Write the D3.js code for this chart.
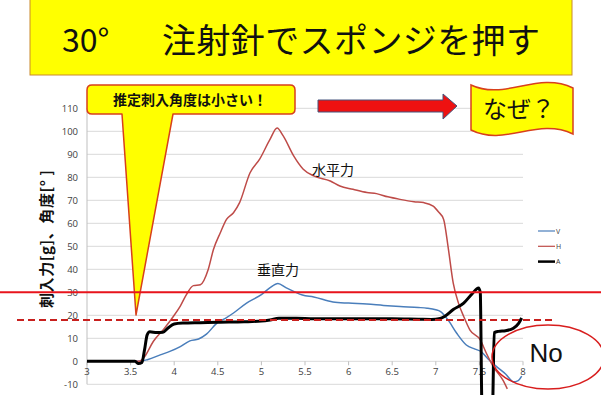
<!DOCTYPE html>
<html>
<head>
<meta charset="utf-8">
<script src="https://cdn.jsdelivr.net/npm/d3@7/dist/d3.min.js"></script>
<style>
  html, body { margin: 0; padding: 0; background: #fff; }
  svg { display: block; }
</style>
</head>
<body>
<div id="chart"></div>
<script>
// 30° 注射針でスポンジを押す — V / H / A vs time
const yTicks = [-10, 0, 10, 20, 30, 40, 50, 60, 70, 80, 90, 100, 110];
const xTicks = [3, 3.5, 4, 4.5, 5, 5.5, 6, 6.5, 7, 7.5, 8];
const xTickLabels = ['3', '3.5', '4', '4.5', '5', '5.5', '6', '6.5', '7', '7.5', '8'];

// V (vertical force)
const vX = [3.0, 3.6, 3.7, 3.84, 3.95, 4.07, 4.18, 4.28, 4.37, 4.49, 4.6, 4.68, 4.83, 5.0, 5.1, 5.19, 5.28, 5.37, 5.47, 5.6, 5.82, 6.0, 6.21, 6.4, 6.59, 6.8, 6.9, 7.0, 7.05, 7.14, 7.24, 7.35, 7.45, 7.52, 7.6, 7.7, 7.8, 7.89, 7.94, 7.985];
const vY = [0, 0, 0.8, 2.8, 4.3, 6.4, 8.9, 9.7, 11.8, 16.6, 19, 21, 25.3, 29, 32, 33.8, 32, 30.4, 28.8, 28, 25.8, 25.3, 24.9, 24.3, 23.8, 23.4, 23.1, 22.4, 21.7, 18, 12.2, 7.1, 5.3, 4.2, 1, -2.4, -5.5, -8.9, -8.5, -6.4];

// H (horizontal force)
const hX = [3.0, 3.6, 3.66, 3.76, 3.88, 3.99, 4.07, 4.14, 4.22, 4.3, 4.39, 4.45, 4.53, 4.6, 4.68, 4.75, 4.87, 4.98, 5.1, 5.18, 5.25, 5.37, 5.48, 5.6, 5.79, 5.9, 6.05, 6.21, 6.32, 6.45, 6.59, 6.75, 6.86, 6.97, 7.03, 7.09, 7.14, 7.2, 7.26, 7.32, 7.39, 7.51, 7.58, 7.66, 7.77, 7.82];
const hY = [0, 0, 2, 8.6, 14, 19.5, 24, 29, 32.9, 33.3, 39.9, 48.6, 56, 61.7, 64.6, 69, 82, 87.9, 96.6, 101.4, 98, 89.3, 83.5, 80.6, 78.4, 76.2, 74.8, 73.4, 72.9, 71.5, 70.4, 69.4, 69, 67.5, 65, 61.7, 50, 34, 25.3, 19.5, 13.7, 9.3, 3.5, -2.4, -8.2, -12];

// A (estimated angle)
const aX = [3.0, 3.5, 3.55, 3.59, 3.63, 3.66, 3.69, 3.72, 3.8, 3.87, 3.93, 4.0, 4.1, 4.3, 4.5, 4.8, 5.0, 5.1, 5.2, 5.4, 5.6, 6.0, 6.5, 6.8, 6.95, 7.05, 7.1, 7.2, 7.32, 7.42, 7.49, 7.51, 7.53, 7.65, 7.67, 7.72, 7.8, 7.89, 7.95, 7.985];
const aY = [0, 0, 0, -1, -0.5, 5, 11.5, 12.8, 12.5, 12.6, 14.5, 16.2, 16.6, 16.8, 17, 17.2, 17.5, 18, 18.7, 18.7, 18.5, 18.5, 18.5, 18.3, 18.2, 18.6, 19.5, 22.5, 25.3, 29.5, 31.9, 30, -20, -20, 12.5, 13, 13.3, 14.4, 16.5, 18.8];

const seriesNames = ['V', 'H', 'A'];
const seriesColors = ['#4a7ebb', '#be4b48', '#000000'];
const seriesWidths = [1.5, 1.5, 3];

const refSolid = 30;   // solid red threshold
const refDashed = 18;  // dashed red threshold

const W = 601, H = 395;
const jp = "'Noto Sans CJK JP', 'Noto Sans', sans-serif";
const num = "'Open Sans', 'Liberation Sans', sans-serif";

const svg = d3.select('#chart').append('svg')
  .attr('width', W).attr('height', H)
  .attr('viewBox', `0 0 ${W} ${H}`);

svg.append('rect').attr('width', W).attr('height', H).attr('fill', '#fff');

const x = d3.scaleLinear().domain([3, 8]).range([87, 523]);
const y = d3.scaleLinear().domain([-10, 110]).range([384.3, 108.3]);

// Title banner
svg.append('rect')
  .attr('x', 30).attr('y', -1).attr('width', 542).attr('height', 76)
  .attr('fill', '#ffff00').attr('stroke', '#c98a2e').attr('stroke-width', 1);
svg.append('text')
  .attr('x', 62).attr('y', 52)
  .attr('font-family', jp).attr('font-size', 32)
  .attr('fill', '#111')
  .text('30°');
svg.append('text')
  .attr('x', 162).attr('y', 53)
  .attr('font-family', jp).attr('font-size', 34)
  .attr('textLength', 378).attr('lengthAdjust', 'spacing')
  .attr('fill', '#111')
  .text('注射針でスポンジを押す');

// Grid
svg.append('g').selectAll('line').data(yTicks).join('line')
  .attr('x1', x(3)).attr('x2', x(8))
  .attr('y1', d => y(d)).attr('y2', d => y(d))
  .attr('stroke', '#d9d9d9').attr('stroke-width', 1);

// vertical axis line
svg.append('line')
  .attr('x1', x(3)).attr('x2', x(3))
  .attr('y1', y(110)).attr('y2', y(-10))
  .attr('stroke', '#bfbfbf').attr('stroke-width', 1);

// y tick labels
svg.append('g').selectAll('text').data(yTicks).join('text')
  .attr('x', 78).attr('y', d => y(d) + 3.5)
  .attr('text-anchor', 'end')
  .attr('font-family', num).attr('font-size', 9.5)
  .attr('fill', '#404040')
  .text(d => d);

// x ticks + labels (axis crosses at 0)
svg.append('g').selectAll('line').data(xTicks).join('line')
  .attr('x1', d => x(d)).attr('x2', d => x(d))
  .attr('y1', y(0)).attr('y2', y(0) + 4)
  .attr('stroke', '#bfbfbf');
svg.append('g').selectAll('text').data(xTicks).join('text')
  .attr('x', d => x(d)).attr('y', y(0) + 14)
  .attr('text-anchor', 'middle')
  .attr('font-family', num).attr('font-size', 9.5)
  .attr('fill', '#404040')
  .text((d, i) => xTickLabels[i]);

// Y axis title
svg.append('text')
  .attr('transform', 'translate(52,239) rotate(-90)')
  .attr('text-anchor', 'middle')
  .attr('font-family', jp).attr('font-size', 15).attr('font-weight', 'bold')
  .attr('textLength', 138).attr('lengthAdjust', 'spacing')
  .attr('fill', '#111')
  .text('刺入力[g]、角度[° ]');

// Callout "推定刺入角度は小さい！" with tail
svg.append('path')
  .attr('d', 'M92,85 H290 Q295,85 295,90 V109 Q295,114 290,114 H173 L136,315 L122,114 H92 Q87,114 87,109 V90 Q87,85 92,85 Z')
  .attr('fill', '#ffff00').attr('stroke', '#d8401c').attr('stroke-width', 1.5)
  .attr('stroke-linejoin', 'round');
svg.append('text')
  .attr('x', 190).attr('y', 105)
  .attr('text-anchor', 'middle')
  .attr('font-family', jp).attr('font-size', 14).attr('font-weight', 'bold')
  .attr('fill', '#111')
  .text('推定刺入角度は小さい！');

// Series
svg.append('clipPath').attr('id', 'plotClip')
  .append('rect').attr('x', 80).attr('y', 0).attr('width', 460).attr('height', H);

const line = d3.line()
  .x(d => x(d[0])).y(d => y(d[1]))
  .curve(d3.curveMonotoneX);

const series = [
  d3.zip(vX, vY),
  d3.zip(hX, hY),
  d3.zip(aX, aY)
];

const gLines = svg.append('g').attr('clip-path', 'url(#plotClip)');
series.forEach((pts, i) => {
  gLines.append('path')
    .attr('d', line(pts))
    .attr('fill', 'none')
    .attr('stroke', seriesColors[i])
    .attr('stroke-width', seriesWidths[i])
    .attr('stroke-linejoin', 'round');
});

// series labels
svg.append('text')
  .attr('x', 312).attr('y', 175)
  .attr('font-family', jp).attr('font-size', 14)
  .attr('fill', '#111')
  .text('水平力');
svg.append('text')
  .attr('x', 257).attr('y', 275)
  .attr('font-family', jp).attr('font-size', 14)
  .attr('fill', '#111')
  .text('垂直力');

// Legend
const leg = svg.append('g');
seriesNames.forEach((name, i) => {
  const ly = 231 + i * 15.3;
  leg.append('line')
    .attr('x1', 538).attr('x2', 555)
    .attr('y1', ly).attr('y2', ly)
    .attr('stroke', seriesColors[i])
    .attr('stroke-width', i === 2 ? 2.5 : 1.2);
  leg.append('text')
    .attr('x', 556).attr('y', ly + 2.5)
    .attr('font-family', num).attr('font-size', 7)
    .attr('fill', '#404040')
    .text(name);
});

// Threshold lines
svg.append('line')
  .attr('x1', 0).attr('x2', W)
  .attr('y1', y(refSolid)).attr('y2', y(refSolid))
  .attr('stroke', '#e8141c').attr('stroke-width', 2);
svg.append('line')
  .attr('x1', 17).attr('x2', 555)
  .attr('y1', y(refDashed)).attr('y2', y(refDashed))
  .attr('stroke', '#c8201e').attr('stroke-width', 2)
  .attr('stroke-dasharray', '7,4');

// Arrow
svg.append('path')
  .attr('d', 'M318,100 H443 V94 L457,106 L443,119 V112 H318 Z')
  .attr('fill', '#ee1111').attr('stroke', '#44547c').attr('stroke-width', 1);

// "なぜ？" wave flag
svg.append('path')
  .attr('d', 'M471,85 C505,101 537,71 573,88 L573,134 C537,117 505,147 471,130 Z')
  .attr('fill', '#ffff00').attr('stroke', '#d8401c').attr('stroke-width', 1.5);
svg.append('text')
  .attr('x', 519).attr('y', 118)
  .attr('text-anchor', 'middle')
  .attr('font-family', jp).attr('font-size', 24)
  .attr('fill', '#111')
  .text('なぜ？');

// "No" ellipse
svg.append('ellipse')
  .attr('cx', 548).attr('cy', 357).attr('rx', 56).attr('ry', 32)
  .attr('fill', 'none').attr('stroke', '#d81e1e').attr('stroke-width', 1.5);
svg.append('text')
  .attr('x', 546).attr('y', 362)
  .attr('text-anchor', 'middle')
  .attr('font-family', "'Liberation Sans', 'Open Sans', sans-serif").attr('font-size', 26)
  .attr('fill', '#111')
  .text('No');
</script>
</body>
</html>
